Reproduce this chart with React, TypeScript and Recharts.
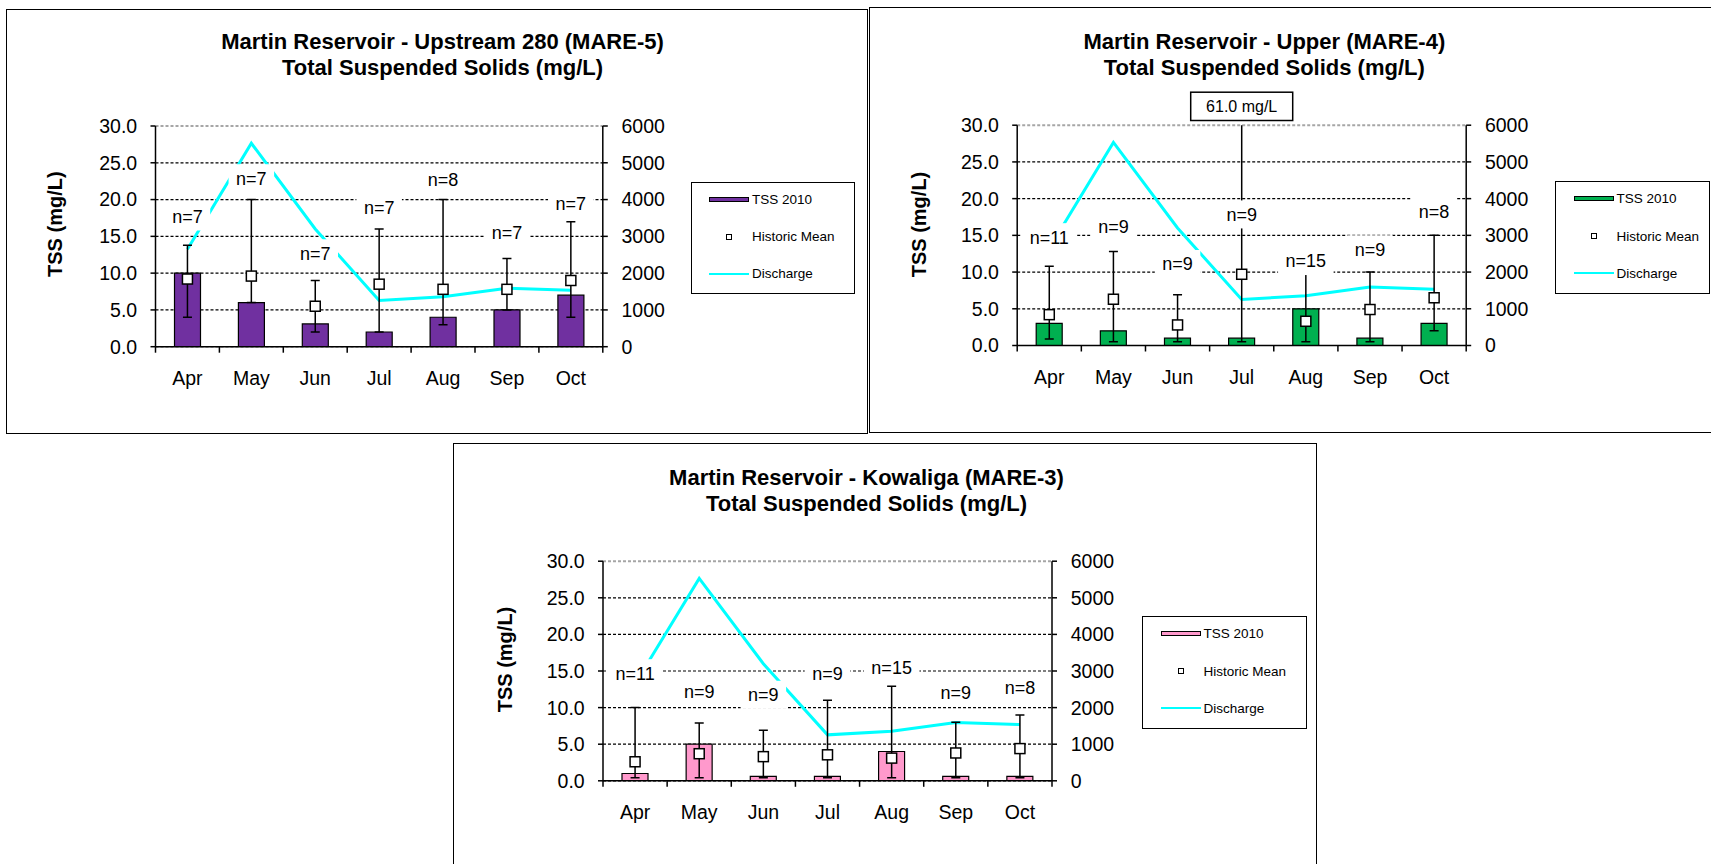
import React from 'react';
import { ComposedChart, Bar, Line, XAxis, YAxis, CartesianGrid, ErrorBar, LabelList } from 'recharts';

const FONT = "'Liberation Sans', Arial, Helvetica, sans-serif";

const months = ['Apr', 'May', 'Jun', 'Jul', 'Aug', 'Sep', 'Oct'];
const tssTicks = [0, 5, 10, 15, 20, 25, 30];
const dischargeTicks = [0, 1000, 2000, 3000, 4000, 5000, 6000];
const discharge = [2650, 5530, 3200, 1255, 1355, 1590, 1535];
const legendLabels = ['TSS 2010', 'Historic Mean', 'Discharge'];

// Upstream 280 (MARE-5)
const mare5Tss = [10.0, 6.0, 3.1, 2.0, 4.0, 5.0, 7.0];
const mare5Mean = [9.2, 9.6, 5.5, 8.5, 7.8, 7.8, 9.0];
const mare5Min = [4.0, 6.0, 2.0, 2.0, 3.0, 5.0, 4.0];
const mare5Max = [13.8, 20.0, 9.0, 16.0, 20.0, 12.0, 17.0];
const mare5N = [7, 7, 7, 7, 8, 7, 7];
const mare5LabelAt = [17.7, 22.9, 12.7, 18.9, 22.7, 15.5, 19.5];

// Upper (MARE-4)
const mare4Tss = [3.0, 2.0, 1.0, 1.0, 5.0, 1.0, 3.0];
const mare4Mean = [4.2, 6.3, 2.8, 9.7, 3.3, 4.9, 6.5];
const mare4Min = [0.9, 0.5, 0.5, 0.5, 0.5, 0.5, 2.0];
const mare4Max = [10.8, 12.8, 6.9, 61.0, 11.0, 10.0, 15.0];
const mare4N = [11, 9, 9, 9, 15, 9, 8];
const mare4LabelAt = [14.75, 16.25, 11.1, 17.85, 11.5, 13.1, 18.3];

// Kowaliga (MARE-3)
const mare3Tss = [1.0, 5.0, 0.6, 0.6, 4.0, 0.6, 0.6];
const mare3Mean = [2.6, 3.7, 3.3, 3.55, 3.1, 3.8, 4.4];
const mare3Min = [0.4, 0.4, 0.4, 0.4, 0.4, 0.4, 0.4];
const mare3Max = [10.0, 7.9, 6.9, 11.0, 12.9, 8.0, 9.0];
const mare3N = [11, 9, 9, 9, 15, 9, 8];
const mare3LabelAt = [14.7, 12.2, 11.75, 14.6, 15.5, 12.1, 12.7];

const tssMax = tssTicks[tssTicks.length - 1];

const buildRows = (tss: number[], mean: number[], min: number[], max: number[], n: number[], labelAt: number[]) =>
  months.map((month, i) => ({
    month,
    tss: tss[i],
    mean: mean[i],
    err: [mean[i] - min[i], max[i] - mean[i]],
    max: max[i],
    n: n[i],
    labelAt: labelAt[i],
    discharge: discharge[i],
  }));

const sites = [
  {
    id: 'mare5',
    title: 'Martin Reservoir - Upstream 280 (MARE-5)',
    color: '#7030A0',
    rows: buildRows(mare5Tss, mare5Mean, mare5Min, mare5Max, mare5N, mare5LabelAt),
    box: { x: 5.5, y: 9, w: 862.5, h: 424.5 },
    plot: { x0: 155, x1: 602.3, y0: 126, y1: 346.7 },
    titleX: 442,
    titleY: [49.3, 75],
    axisTitle: { x: 61.8, y: 224.2 },
    legend: { x: 690.6, y: 181.5, w: 164.9, h: 112.5 },
  },
  {
    id: 'mare4',
    title: 'Martin Reservoir - Upper (MARE-4)',
    color: '#00B050',
    rows: buildRows(mare4Tss, mare4Mean, mare4Min, mare4Max, mare4N, mare4LabelAt),
    box: { x: 868.5, y: 6.5, w: 860, h: 426 },
    plot: { x0: 1016.7, x1: 1465.7, y0: 124.7, y1: 345 },
    titleX: 1263.8,
    titleY: [48.8, 74.3],
    axisTitle: { x: 925.5, y: 224 },
    legend: { x: 1555.3, y: 181, w: 154.8, h: 113 },
  },
  {
    id: 'mare3',
    title: 'Martin Reservoir - Kowaliga (MARE-3)',
    color: '#FF99CC',
    rows: buildRows(mare3Tss, mare3Mean, mare3Min, mare3Max, mare3N, mare3LabelAt),
    box: { x: 453.3, y: 442.5, w: 863.5, h: 440 },
    plot: { x0: 603.3, x1: 1052.3, y0: 560.7, y1: 780.3 },
    titleX: 866.8,
    titleY: [484.3, 510],
    axisTitle: { x: 512, y: 659 },
    legend: { x: 1142.3, y: 616, w: 164.3, h: 112.5 },
  },
];

type Site = (typeof sites)[number];

const Y_AXIS_W = 70;
const X_AXIS_H = 60;
const LEGEND_ROWS = [16.9, 54.1, 91.1];

// rough Arial advance widths, used to size the white label boxes
const CHAR_W: Record<string, number> = { n: 0.556, '=': 0.584, ' ': 0.278, '.': 0.278 };
const textWidth = (s: string, size: number) =>
  s.split('').reduce((w, c) => w + (CHAR_W[c] ?? 0.556), 0) * size;

const squareDot = (props: any) => {
  const { cx, cy, index } = props;
  if (cx == null || cy == null) return <g key={`sq-${index}`} />;
  return (
    <rect key={`sq-${index}`} x={cx - 5} y={cy - 5} width={10} height={10}
      fill="#fff" stroke="#000" strokeWidth={1.5} />
  );
};

const pointOf = (props: any) => {
  const vb = props.viewBox ?? {};
  const x = Number(vb.x ?? props.x) + Number(vb.width ?? 0) / 2;
  const y = Number(vb.y ?? props.y);
  return { x, y };
};

const nLabel = (props: any) => {
  const { x, y } = pointOf(props);
  const text = `n=${props.value}`;
  const w = textWidth(text, 18) + 15;
  return (
    <g>
      <rect x={x - w / 2} y={y - 14} width={w} height={28} fill="#fff" />
      <text x={x} y={y} dy="0.355em" textAnchor="middle" fontSize={18} fontFamily={FONT} fill="#000">
        {text}
      </text>
    </g>
  );
};

const overflowLabel = (top: number) => (props: any) => {
  const v = Number(props.value);
  if (!(v > tssMax)) return null;
  const { x } = pointOf(props);
  return (
    <g>
      <rect x={x - 51} y={top - 33} width={102} height={28.3} fill="#fff" stroke="#000" strokeWidth={1.5} />
      <text x={x} y={top - 18.9} dy="0.355em" textAnchor="middle" fontSize={16} fontFamily={FONT} fill="#000">
        {`${v.toFixed(1)} mg/L`}
      </text>
    </g>
  );
};

const monthTick = (band: number) => (props: any) => {
  const { x, y, payload, index } = props;
  const h = band / 2;
  return (
    <g>
      <line x1={x - h} x2={x - h} y1={y} y2={y + 6} stroke="#000" strokeWidth={1.5} />
      {index === months.length - 1 && (
        <line x1={x + h} x2={x + h} y1={y} y2={y + 6} stroke="#000" strokeWidth={1.5} />
      )}
      <text x={x} y={y + 38} textAnchor="middle" fontSize={19.5} fontFamily={FONT} fill="#000">
        {payload.value}
      </text>
    </g>
  );
};

const gridLine = (top: number) => (g: any) => {
  const isTop = Math.abs(g.y1 - top) < 1;
  return (
    <line key={g.key ?? `g-${g.index}`} x1={g.x1} x2={g.x2} y1={g.y1} y2={g.y2}
      stroke={isTop ? '#a6a6a6' : '#000'} strokeWidth={isTop ? 2 : 1.2} strokeDasharray="3 2" />
  );
};

const Swatch = ({ kind, color }: { kind: number; color: string }) => (
  <span style={{ position: 'relative', display: 'inline-block', width: 40, height: 20, marginRight: 2.5 }}>
    {kind === 0 && (
      <span style={{ position: 'absolute', left: 0, top: 7.5, width: 40, height: 5, background: color,
        border: '1px solid #000', boxSizing: 'border-box' }} />
    )}
    {kind === 1 && (
      <span style={{ position: 'absolute', left: 17, top: 7, width: 6, height: 6, background: '#fff',
        border: '1.5px solid #000', boxSizing: 'border-box' }} />
    )}
    {kind === 2 && (
      <span style={{ position: 'absolute', left: 0, top: 9, width: 40, height: 2, background: '#00FFFF' }} />
    )}
  </span>
);

const SiteLegend = ({ site }: { site: Site }) => {
  const { legend, box } = site;
  return (
    <div style={{ position: 'absolute', left: legend.x - box.x, top: legend.y - box.y, width: legend.w,
      height: legend.h, border: '1.5px solid #000', boxSizing: 'border-box', background: '#fff',
      fontFamily: FONT, fontSize: 13.5, color: '#000' }}>
      {legendLabels.map((label, i) => (
        <div key={label} style={{ position: 'absolute', left: 17.8, top: LEGEND_ROWS[i] - 10, height: 20,
          display: 'flex', alignItems: 'center', whiteSpace: 'nowrap' }}>
          <Swatch kind={i} color={site.color} />
          {label}
        </div>
      ))}
    </div>
  );
};

const SitePanel = ({ site }: { site: Site }) => {
  const { box, plot } = site;
  const top = plot.y0 - box.y;
  const band = (plot.x1 - plot.x0) / months.length;
  const margin = {
    top,
    left: plot.x0 - box.x - Y_AXIS_W,
    right: box.x + box.w - plot.x1 - Y_AXIS_W,
    bottom: box.y + box.h - plot.y1 - X_AXIS_H,
  };
  const ax = site.axisTitle.x - box.x;
  const ay = site.axisTitle.y - box.y;
  const clipId = `plot-clip-${site.id}`;
  const axisLine = { stroke: '#000', strokeWidth: 1.5 };
  const tickStyle = { fill: '#000', fontSize: 19.5, fontFamily: FONT };

  return (
    <div style={{ position: 'absolute', left: box.x, top: box.y, width: box.w, height: box.h }}>
      <ComposedChart width={box.w} height={box.h} data={site.rows} margin={margin}>
        <CartesianGrid yAxisId="left" vertical={false} horizontal={gridLine(top)} />
        <XAxis dataKey="month" interval={0} height={X_AXIS_H} axisLine={axisLine} tickLine={false}
          tickSize={0} tickMargin={0} tick={monthTick(band)} />
        <YAxis yAxisId="left" domain={[0, tssMax]} ticks={tssTicks} allowDataOverflow interval={0}
          width={Y_AXIS_W} axisLine={axisLine} tickLine={axisLine} tickSize={5} tickMargin={13.3}
          tick={tickStyle} tickFormatter={(v: number) => v.toFixed(1)} />
        <YAxis yAxisId="right" orientation="right" domain={[0, dischargeTicks[dischargeTicks.length - 1]]}
          ticks={dischargeTicks} interval={0} width={Y_AXIS_W} axisLine={axisLine} tickLine={axisLine}
          tickSize={5} tickMargin={13.7} tick={tickStyle} />
        <Bar yAxisId="left" dataKey="tss" fill={site.color} stroke="#000" strokeWidth={1.2} barSize={26}
          isAnimationActive={false} />
        <Line yAxisId="right" dataKey="discharge" type="linear" stroke="#00FFFF" strokeWidth={3}
          dot={false} activeDot={false} isAnimationActive={false} />
        <Line yAxisId="left" dataKey="mean" stroke="none" dot={squareDot} activeDot={false}
          isAnimationActive={false}>
          <ErrorBar dataKey="err" direction="y" width={4.5} stroke="#000" strokeWidth={1.5}
            isAnimationActive={false} clipPath={`url(#${clipId})`} />
          <LabelList dataKey="max" content={overflowLabel(top)} />
        </Line>
        <Line yAxisId="left" dataKey="labelAt" stroke="none" dot={false} activeDot={false}
          isAnimationActive={false}>
          <LabelList dataKey="n" content={nLabel} />
        </Line>
      </ComposedChart>
      <svg width={box.w} height={box.h}
        style={{ position: 'absolute', left: 0, top: 0, pointerEvents: 'none', overflow: 'visible' }}>
        <defs>
          <clipPath id={clipId}>
            <rect x={plot.x0 - box.x - 20} y={top} width={plot.x1 - plot.x0 + 40}
              height={plot.y1 - plot.y0 + 20} />
          </clipPath>
        </defs>
        <text x={site.titleX - box.x} y={site.titleY[0] - box.y} textAnchor="middle" fontSize={22}
          fontWeight="bold" fontFamily={FONT} fill="#000">{site.title}</text>
        <text x={site.titleX - box.x} y={site.titleY[1] - box.y} textAnchor="middle" fontSize={22}
          fontWeight="bold" fontFamily={FONT} fill="#000">Total Suspended Solids (mg/L)</text>
        <text x={ax} y={ay} transform={`rotate(-90 ${ax} ${ay})`} textAnchor="middle" fontSize={20}
          fontWeight="bold" fontFamily={FONT} fill="#000">TSS (mg/L)</text>
      </svg>
      <SiteLegend site={site} />
      <div style={{ position: 'absolute', left: 0, top: 0, width: box.w, height: box.h,
        border: '1.5px solid #000', boxSizing: 'border-box', pointerEvents: 'none' }} />
    </div>
  );
};

export default function App() {
  return (
    <div style={{ position: 'absolute', left: 0, top: 0, width: 1711, height: 864, overflow: 'hidden',
      background: '#fff', fontFamily: FONT }}>
      {sites.map((site) => (
        <SitePanel key={site.id} site={site} />
      ))}
    </div>
  );
}
